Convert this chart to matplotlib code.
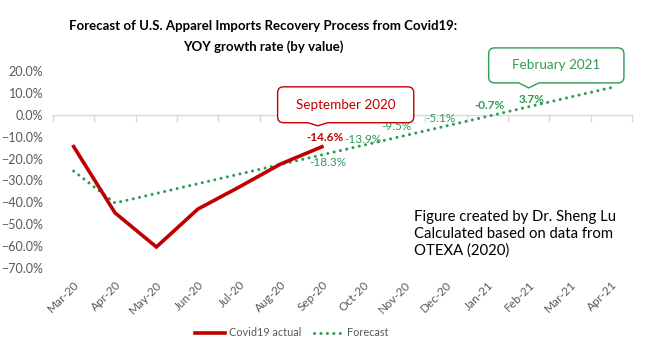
import numpy as np
import matplotlib.pyplot as plt
from matplotlib.path import Path
from matplotlib.patches import PathPatch
from matplotlib.transforms import IdentityTransform
from matplotlib.ticker import PercentFormatter

plt.rcParams['font.family'] = ['Lato', 'DejaVu Sans']

# ---------------------------
# Datos
# ---------------------------
meses = ['Mar-20', 'Apr-20', 'May-20', 'Jun-20', 'Jul-20', 'Aug-20', 'Sep-20',
         'Oct-20', 'Nov-20', 'Dec-20', 'Jan-21', 'Feb-21', 'Mar-21', 'Apr-21']
actual = [-14.5, -44.8, -60.4, -43.1, -33.0, -22.5, -14.6]
forecast = [-25.7, -40.3, -35.9, -31.5, -27.1, -22.7, -18.3,
            -13.9, -9.5, -5.1, -0.7, 3.7, 8.1, 12.5]
yticks = [20, 10, 0, -10, -20, -30, -40, -50, -60, -70]

rojo = '#C00000'
verde = '#2E9B57'
gris = '#595959'

fig = plt.figure(figsize=(6.62, 3.59), dpi=100)
ax = fig.add_axes([0.080, 0.2535, 0.875, 0.5485])

x = np.arange(len(meses))
ax.plot(x[:len(actual)], actual, color=rojo, lw=2.6, solid_joinstyle='miter',
        label='Covid19 actual', zorder=3)
ax.plot(x, forecast, color=verde, lw=2.2, linestyle=(0, (0.01, 2.1)),
        dash_capstyle='round', label='Forecast', zorder=2)

ax.set_xlim(-0.5, len(meses) - 0.5)
ax.set_ylim(yticks[-1], yticks[0])
for s in ax.spines.values():
    s.set_visible(False)

ax.set_yticks(yticks)
ax.yaxis.set_major_formatter(PercentFormatter(decimals=1))
ax.tick_params(axis='y', length=0, pad=7, labelsize=9, labelcolor=gris)
ax.set_xticks(x)
ax.set_xticklabels(meses, rotation=45, ha='right', rotation_mode='anchor')
ax.tick_params(axis='x', length=0, pad=8, labelsize=8.5, labelcolor=gris)

# eje en 0 con marcas entre categorías
y0 = (0 - yticks[-1]) / (yticks[0] - yticks[-1])
sec = ax.secondary_xaxis(y0)
sec.set_xticks(np.arange(-0.5, len(meses), 1.0))
sec.set_xticklabels([])
sec.tick_params(length=5, color='#D9D9D9', width=1, direction='in')
for s in sec.spines.values():
    s.set_color('#D9D9D9')
    s.set_linewidth(1)


# ---------------------------
# Etiquetas de datos (desplazamientos en píxeles)
# ---------------------------
def etiqueta(texto, xy, dx, dy, color, bold=False):
    ax.annotate(texto, xy, xytext=(dx * 0.72, dy * 0.72), textcoords='offset points',
                ha='center', va='center', color=color, fontsize=8.5,
                fontweight='bold' if bold else 'normal', zorder=5)


etiqueta(f'{actual[6]:.1f}%', (6, actual[6]), 3, 9, rojo, bold=True)
etiqueta(f'{forecast[6]:.1f}%', (6, forecast[6]), 6, -8, verde)
etiqueta(f'{forecast[7]:.1f}%', (7, forecast[7]), 0, 6, verde)
etiqueta(f'{forecast[8]:.1f}%', (8, forecast[8]), -8, 9, verde)
etiqueta(f'{forecast[9]:.1f}%', (9, forecast[9]), -6, 7, verde)
etiqueta(f'{forecast[10]:.1f}%', (10, forecast[10]), 2, 11, verde, bold=True)
etiqueta(f'{forecast[11]:.1f}%', (11, forecast[11]), 3, 7, verde, bold=True)


# ---------------------------
# Llamadas (callouts)
# ---------------------------
def callout(x0, y0, x1, y1, xtip, ytip, color, text, r=6, half=10):
    t = ax.transData
    (px0, py0) = t.transform((x0, y0))
    (px1, py1) = t.transform((x1, y1))
    (tx, ty) = t.transform((xtip, ytip))
    verts = [(px0 + r, py0), (tx - half, py0), (tx, ty), (tx + half, py0),
             (px1 - r, py0), (px1, py0), (px1, py0 + r),
             (px1, py1 - r), (px1, py1), (px1 - r, py1),
             (px0 + r, py1), (px0, py1), (px0, py1 - r),
             (px0, py0 + r), (px0, py0), (px0 + r, py0)]
    codes = [Path.MOVETO, Path.LINETO, Path.LINETO, Path.LINETO,
             Path.LINETO, Path.CURVE3, Path.CURVE3,
             Path.LINETO, Path.CURVE3, Path.CURVE3,
             Path.LINETO, Path.CURVE3, Path.CURVE3,
             Path.LINETO, Path.CURVE3, Path.CURVE3]
    p = PathPatch(Path(verts, codes), facecolor='white', edgecolor=color,
                  lw=1.0, transform=IdentityTransform(), clip_on=False, zorder=4)
    fig.add_artist(p)
    fig.text((px0 + px1) / 2 / fig.dpi / fig.get_figwidth(),
             (py0 + py1) / 2 / fig.dpi / fig.get_figheight(),
             text, ha='center', va='center', color=color, fontsize=9.7, zorder=5)


callout(4.93, -3.6, 8.22, 12.8, 5.9, -5.0, rojo, 'September 2020')
callout(10.03, 14.6, 13.3, 30.6, 11.0, 12.3, verde, 'February 2021')

# ---------------------------
# Texto y título
# ---------------------------
ax.text(8.22, -43.5, 'Figure created by Dr. Sheng Lu\nCalculated based on data from\nOTEXA (2020)',
        ha='left', va='top', fontsize=10.7, color='black', linespacing=1.25)

fig.text(0.397, 0.945, 'Forecast of U.S. Apparel Imports Recovery Process from Covid19:\nYOY growth rate (by value)',
         ha='center', va='top', fontsize=9.5, fontweight='bold', linespacing=1.85)

fig.legend(loc='lower center', bbox_to_anchor=(0.441, 0.03), ncol=2, frameon=False,
           fontsize=7.8, handlelength=2.8, handletextpad=0.3, columnspacing=1.2,
           labelcolor=gris)

fig.savefig('out.png', dpi=100)
